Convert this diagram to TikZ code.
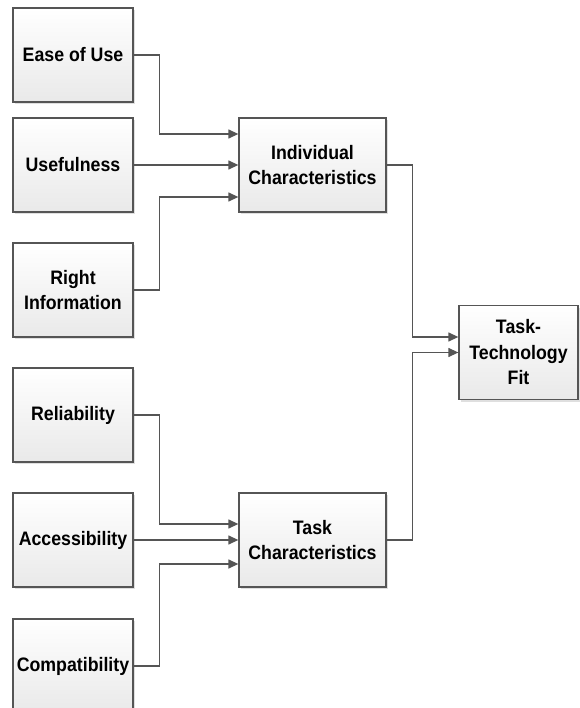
\documentclass[tikz,border=0pt]{standalone}
\usepackage{fontspec}
\setmainfont{Liberation Sans}
\newfontfamily\boxfont{Liberation Sans}[FakeStretch = 0.91]
\usetikzlibrary{arrows.meta,shadows}
\definecolor{edgegray}{HTML}{555555}
\definecolor{fillgray}{HTML}{E9E9E9}
\begin{document}
\begin{tikzpicture}[x=1pt, y=-1pt]
            \tikzset{
                factor-box/.style = {
                    draw = edgegray, line width = 1.3pt,
                    top color = white, bottom color = fillgray,
                    drop shadow = {opacity = 0.25, shadow xshift = 2pt, shadow yshift = -2pt},
                    minimum width = 120pt, minimum height = 94pt,
                    inner sep = 2pt, align = center,
                    font = \boxfont\fontsize{19.5}{25.5}\selectfont\bfseries
                },
                main-box/.style = {factor-box, minimum width = 147pt},
                link/.style = {
                    draw = edgegray, line width = 1.3pt,
                    -{Triangle[length = 10pt, width = 9pt]}
                }
            }
            \useasboundingbox (0, 0) rectangle (579, 708);

            % left column
            \node[factor-box] (ease) at (73, 55) {Ease of Use};
            \node[factor-box] (useful) at (73, 165) {Usefulness};
            \node[factor-box] (rightinfo) at (73, 290) {Right\\Information};
            \node[factor-box] (reliab) at (73, 415) {Reliability};
            \node[factor-box] (access) at (73, 540) {Accessibility};
            \node[factor-box] (compat) at (73, 666) {Compatibility};

            % middle and right
            \node[main-box] (indiv) at (312.5, 165) {Individual\\Characteristics};
            \node[main-box] (task) at (312.5, 540) {Task\\Characteristics};
            \node[factor-box, minimum width = 119pt] (fit) at (518.5, 352.5) {Task-\\Technology\\Fit};

            \draw[link] (ease.east) -- ++(26, 0) |- ([yshift = 31pt]indiv.west);
            \draw[link] (useful.east) -- (indiv.west);
            \draw[link] (rightinfo.east) -- ++(26, 0) |- ([yshift = -32pt]indiv.west);

            \draw[link] (reliab.east) -- ++(26, 0) |- ([yshift = 16pt]task.west);
            \draw[link] (access.east) -- (task.west);
            \draw[link] (compat.east) -- ++(26, 0) |- ([yshift = -24pt]task.west);

            \draw[link] (indiv.east) -- ++(26, 0) |- ([yshift = 15.5pt]fit.west);
            \draw[link] (task.east) -- ++(26, 0) |- (fit.west);
        \end{tikzpicture}
\end{document}
